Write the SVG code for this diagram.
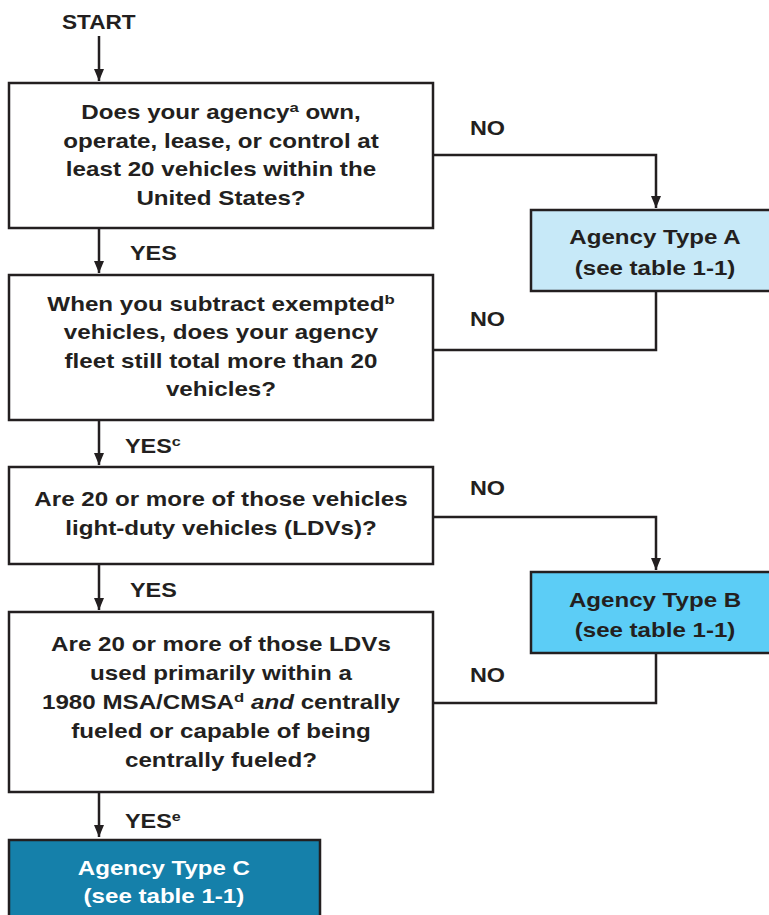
<svg xmlns="http://www.w3.org/2000/svg" width="769" height="915" viewBox="0 0 769 915">
<defs>
<marker id="ah" viewBox="0 0 12 10" refX="12" refY="5" markerWidth="12" markerHeight="10" markerUnits="userSpaceOnUse" orient="auto">
<path d="M0,0 L12,5 L0,10 Z" fill="#231f20"/>
</marker>
<style>
.box{stroke:#231f20;stroke-width:2.5;fill:#ffffff}
.t{font-family:"Liberation Sans",Arial,sans-serif;font-weight:bold;font-size:19.5px;fill:#231f20;text-anchor:middle}
.g{font-size:20.5px}
.l{font-family:"Liberation Sans",Arial,sans-serif;font-weight:bold;font-size:19.5px;fill:#231f20}
.w{fill:#ffffff}
.c{fill:none;stroke:#231f20;stroke-width:2.5}
.a{marker-end:url(#ah)}
</style>
</defs>
<rect width="769" height="915" fill="#ffffff"/>
<g id="connectors">
<line class="c a" x1="99" y1="36" x2="99" y2="81"/>
<line class="c a" x1="99" y1="229" x2="99" y2="273"/>
<line class="c a" x1="99" y1="421" x2="99" y2="465"/>
<line class="c a" x1="99" y1="565" x2="99" y2="610"/>
<line class="c a" x1="99" y1="793" x2="99" y2="837"/>
<polyline class="c a" points="433,155 656,155 656,208"/>
<polyline class="c" points="656,291 656,350 433,350"/>
<polyline class="c a" points="433,517 656,517 656,570"/>
<polyline class="c" points="656,653 656,703 433,703"/>
<text class="l" x="62" y="29" transform="matrix(1.16 0 0 1 -9.92 0)">START</text>
<g transform="matrix(1.2 0 0 1 -94 0)">
<text class="l" x="470" y="135">NO</text>
<text class="l" x="470" y="326">NO</text>
<text class="l" x="470" y="495">NO</text>
<text class="l" x="470" y="682">NO</text>
</g>
<text class="l" x="130" y="260" transform="matrix(1.2 0 0 1 -26 0)">YES</text>
<text class="l" x="125" y="453" transform="matrix(1.2 0 0 1 -25 0)">YES<tspan font-size="13.5" dy="-7">c</tspan></text>
<text class="l" x="130" y="597" transform="matrix(1.2 0 0 1 -26 0)">YES</text>
<text class="l" x="125" y="828" transform="matrix(1.2 0 0 1 -25 0)">YES<tspan font-size="13.5" dy="-7">e</tspan></text>
</g>
<g id="q1">
<rect class="box" x="9" y="83" width="424" height="145"/>
<g transform="matrix(1.24 0 0 1 -53.04 0)">
<text class="t" x="221" y="119">Does your agency<tspan font-size="13.5" dy="-7">a</tspan><tspan dy="7"> own,</tspan></text>
<text class="t" x="221" y="148">operate, lease, or control at</text>
<text class="t" x="221" y="176.5">least 20 vehicles within the</text>
<text class="t" x="221" y="205">United States?</text>
</g>
</g>
<g id="typeA">
<rect class="box" x="531" y="210" width="250" height="81" style="fill:#c7e9f8"/>
<g transform="matrix(1.175 0 0 1 -114.6 0)">
<text class="t g" x="655" y="244">Agency Type A</text>
<text class="t g" x="655" y="275">(see table 1-1)</text>
</g>
</g>
<g id="q2">
<rect class="box" x="9" y="275" width="424" height="145"/>
<g transform="matrix(1.24 0 0 1 -53.04 0)">
<text class="t" x="221" y="311">When you subtract exempted<tspan font-size="13.5" dy="-7">b</tspan></text>
<text class="t" x="221" y="339.5">vehicles, does your agency</text>
<text class="t" x="221" y="368">fleet still total more than 20</text>
<text class="t" x="221" y="396.5">vehicles?</text>
</g>
</g>
<g id="q3">
<rect class="box" x="9" y="467" width="424" height="97"/>
<g transform="matrix(1.24 0 0 1 -53.04 0)">
<text class="t" x="221" y="506">Are 20 or more of those vehicles</text>
<text class="t" x="221" y="535">light-duty vehicles (LDVs)?</text>
</g>
</g>
<g id="typeB">
<rect class="box" x="531" y="572" width="250" height="81" style="fill:#5ccdf6"/>
<g transform="matrix(1.175 0 0 1 -114.6 0)">
<text class="t g" x="655" y="607">Agency Type B</text>
<text class="t g" x="655" y="637">(see table 1-1)</text>
</g>
</g>
<g id="q4">
<rect class="box" x="9" y="612" width="424" height="180"/>
<g transform="matrix(1.24 0 0 1 -53.04 0)">
<text class="t" x="221" y="651">Are 20 or more of those LDVs</text>
<text class="t" x="221" y="680">used primarily within a</text>
<text class="t" x="221" y="709">1980 MSA/CMSA<tspan font-size="13.5" dy="-7">d</tspan><tspan dy="7" font-style="italic"> and</tspan> centrally</text>
<text class="t" x="221" y="738">fueled or capable of being</text>
<text class="t" x="221" y="767">centrally fueled?</text>
</g>
</g>
<g id="typeC">
<rect class="box" x="9" y="840" width="311" height="90" style="fill:#1580aa"/>
<g transform="matrix(1.175 0 0 1 -28.79 0)">
<text class="t g w" x="164" y="875">Agency Type C</text>
<text class="t g w" x="164" y="903">(see table 1-1)</text>
</g>
</g>
</svg>
